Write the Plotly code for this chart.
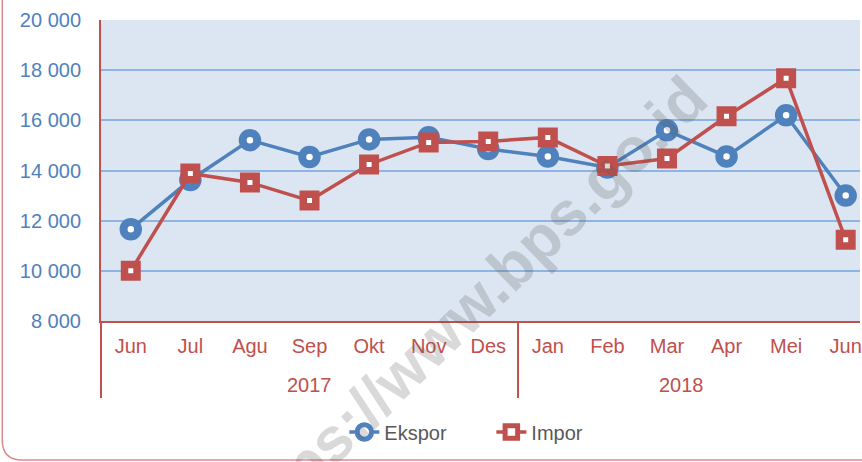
import plotly.graph_objects as go

months = ["Jun", "Jul", "Agu", "Sep", "Okt", "Nov", "Des",
          "Jan", "Feb", "Mar", "Apr", "Mei", "Jun"]
years = ["2017", "2018"]
ekspor = [11660, 13620, 15210, 14540, 15240, 15330, 14860,
          14560, 14120, 15600, 14560, 16200, 13000]
impor = [10000, 13880, 13520, 12800, 14240, 15120, 15160,
         15320, 14180, 14480, 16160, 17680, 11240]
y_ticks = [8000, 10000, 12000, 14000, 16000, 18000, 20000]

W, H = 862, 462
ML, MT, MR, MB = 101, 20, 0, 141
PW, PH = W - ML - MR, H - MT - MB

BLUE = "#4F81BD"
RED = "#C0504D"
FONT = "Liberation Sans, Arial"

x = list(range(len(months)))
xr = [-0.5, 12.24]


def px(xp):
    return (xp - ML) / PW


def py(yp):
    return (MT + PH - yp) / PH


def xcat(c):
    return (c - xr[0]) / (xr[1] - xr[0])


fig = go.Figure()
fig.add_trace(go.Scatter(
    x=x, y=ekspor, name="Ekspor", mode="lines+markers",
    line=dict(color=BLUE, width=3.5),
    marker=dict(symbol="circle", size=14.5, color="white",
                line=dict(color=BLUE, width=8)),
    cliponaxis=False,
))
fig.add_trace(go.Scatter(
    x=x, y=impor, name="Impor", mode="lines+markers",
    line=dict(color=RED, width=3.5),
    marker=dict(symbol="square", size=12.5, color="white",
                line=dict(color=RED, width=7.5)),
    cliponaxis=False,
))

shapes = []
for c in [xr[0], 6.5]:
    shapes.append(dict(type="line", xref="paper", yref="paper",
                       x0=xcat(c), x1=xcat(c), y0=py(398), y1=0,
                       line=dict(color=RED, width=2)))
path = "M {a},{b} L {a},{c} Q {a},{d} {e},{d} L {f},{d}".format(
    a=px(2), b=py(-10), c=py(440), d=py(460), e=px(22), f=px(900))
shapes.append(dict(type="path", xref="paper", yref="paper", path=path,
                   line=dict(color="#D98C8A", width=1.5)))

annotations = [
    dict(x=3, y=py(385), xref="x", yref="paper", text=years[0],
         showarrow=False, font=dict(size=20, color=RED, family=FONT),
         xanchor="center", yanchor="middle"),
    dict(x=9.25, y=py(385), xref="x", yref="paper", text=years[1],
         showarrow=False, font=dict(size=20, color=RED, family=FONT),
         xanchor="center", yanchor="middle"),
    dict(x=px(466), y=py(310), xref="paper", yref="paper",
         text="<b>https://www.bps.go.id</b>", showarrow=False,
         textangle=-44, opacity=0.22,
         xanchor="center", yanchor="middle",
         font=dict(size=62, color="#555555", family=FONT)),
]

fig.update_layout(
    width=W, height=H,
    margin=dict(l=ML, r=MR, t=MT, b=MB),
    paper_bgcolor="white",
    plot_bgcolor="#DCE6F2",
    separators=", ",
    font=dict(family=FONT, size=20),
    showlegend=True,
    legend=dict(orientation="h", x=px(345), y=py(432),
                xanchor="left", yanchor="middle",
                font=dict(size=20, color="#595959"),
                bgcolor="rgba(0,0,0,0)",
                entrywidth=102, entrywidthmode="pixels",
                traceorder="normal"),
    shapes=shapes,
    annotations=annotations,
)
fig.update_xaxes(
    range=xr, tickmode="array", tickvals=x, ticktext=months,
    showgrid=False, zeroline=False,
    showline=True, linecolor=RED, linewidth=2,
    ticks="outside", ticklen=6, tickcolor="rgba(0,0,0,0)",
    tickfont=dict(size=20, color=RED),
    ticklabeloverflow="allow",
)
fig.update_yaxes(
    range=[8000, 20000], tickmode="array", tickvals=y_ticks,
    tickformat=",d",
    showgrid=True, gridcolor="#8DB4E2", gridwidth=1.5,
    zeroline=False,
    showline=True, linecolor=RED, linewidth=2,
    ticks="outside", ticklen=14, tickcolor="rgba(0,0,0,0)",
    tickfont=dict(size=20, color=BLUE),
)

fig.write_html(
    "out.html",
    config={"displayModeBar": False},
    post_script="document.body.style.margin='0';"
                "document.body.style.overflow='hidden';",
)
